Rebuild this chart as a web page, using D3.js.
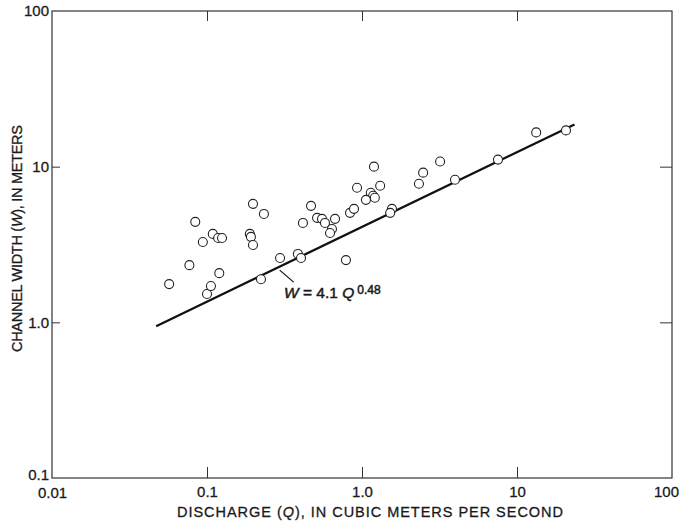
<!DOCTYPE html>
<html>
<head>
<meta charset="utf-8">
<script src="https://cdn.jsdelivr.net/npm/d3@7"></script>
<style>
  html, body { margin: 0; padding: 0; background: #fff; }
  svg { display: block; font-family: "Liberation Sans", Arial, Helvetica, sans-serif; }
  svg text { stroke: #1a1a1a; stroke-width: 0.3px; }
</style>
</head>
<body>
<svg id="chart" width="681" height="527"></svg>
<script>
// Channel width versus discharge, one record per measured site
const discharge = [
  0.057, 0.077, 0.084, 0.094, 0.100, 0.106, 0.109, 0.120, 0.118, 0.125,
  0.198, 0.233, 0.189, 0.192, 0.198, 0.223, 0.296, 0.386, 0.404, 0.416,
  0.469, 0.513, 0.552, 0.577, 0.670, 0.640, 0.622, 0.788, 0.837, 0.888,
  0.929, 1.195, 1.31, 1.14, 1.18, 1.21, 1.06, 1.56, 1.52, 3.19,
  2.48, 2.33, 3.98, 7.54, 13.3, 20.7
];
const channelWidth = [
  1.76, 2.33, 4.42, 3.28, 1.52, 1.71, 3.70, 2.07, 3.48, 3.48,
  5.77, 4.97, 3.70, 3.54, 3.14, 1.89, 2.59, 2.75, 2.59, 4.35,
  5.60, 4.69, 4.62, 4.35, 4.62, 3.98, 3.75, 2.51, 5.05, 5.36,
  7.32, 10.0, 7.54, 6.80, 6.50, 6.31, 6.12, 5.36, 5.05, 10.8,
  9.15, 7.77, 8.24, 11.1, 16.6, 17.1
];

// Fitted power law W = a Q^b and the discharge span it covers
const fitCoef = 4.1;
const fitExp = 0.48;
const fitRange = [0.047, 23.5];

// Axis ticks
const xTicks = [0.01, 0.1, 1, 10, 100];
const xTickLabels = ["0.01", "0.1", "1.0", "10", "100"];
const yTicks = [0.1, 1, 10, 100];
const yTickLabels = ["0.1", "1.0", "10", "100"];

const svg = d3.select("#chart");
const plotLeft = 52, plotRight = 672, plotTop = 11, plotBottom = 478;

const x = d3.scaleLog().domain([0.01, 100]).range([plotLeft, plotRight]);
const y = d3.scaleLog().domain([0.1, 100]).range([plotBottom, plotTop]);

const ink = "#1a1a1a";
const fontFam = "'Liberation Sans', Arial, sans-serif";

// Frame
svg.append("rect")
  .attr("x", plotLeft).attr("y", plotTop)
  .attr("width", plotRight - plotLeft).attr("height", plotBottom - plotTop)
  .attr("fill", "none").attr("stroke", "#333").attr("stroke-width", 1.2);

// Bottom axis with inward ticks
const gx = svg.append("g")
  .attr("transform", `translate(0,${plotBottom})`)
  .call(d3.axisBottom(x).tickValues(xTicks)
    .tickFormat((d, i) => xTickLabels[i])
    .tickSizeInner(-11).tickSizeOuter(0).tickPadding(8));
gx.select(".domain").remove();
gx.selectAll("text").attr("font-size", 15).attr("fill", ink).attr("font-family", fontFam);
gx.selectAll(".tick").filter(d => d === 100).select("text").attr("dx", -6);
gx.selectAll(".tick").filter(d => d === 0.01).select("text").attr("y", 9);
gx.selectAll(".tick").filter(d => d === 0.01 || d === 100).select("line").remove();
gx.selectAll("line").attr("stroke", "#333");

// Top ticks
const gxt = svg.append("g")
  .attr("transform", `translate(0,${plotTop})`)
  .call(d3.axisTop(x).tickValues([0.1, 1, 10]).tickFormat("")
    .tickSizeInner(-10).tickSizeOuter(0));
gxt.select(".domain").remove();
gxt.selectAll("line").attr("stroke", "#333");

// Left axis with inward ticks
const gy = svg.append("g")
  .attr("transform", `translate(${plotLeft},0)`)
  .call(d3.axisLeft(y).tickValues(yTicks)
    .tickFormat((d, i) => yTickLabels[i])
    .tickSizeInner(-8).tickSizeOuter(0).tickPadding(3));
gy.select(".domain").remove();
gy.selectAll("text").attr("font-size", 15).attr("fill", ink).attr("font-family", fontFam);
gy.selectAll(".tick").filter(d => d === 0.1).select("text").attr("y", -3);
gy.selectAll(".tick").filter(d => d === 0.1 || d === 100).select("line").remove();
gy.selectAll("line").attr("stroke", "#333");

// Right ticks
const gyr = svg.append("g")
  .attr("transform", `translate(${plotRight},0)`)
  .call(d3.axisRight(y).tickValues([1, 10]).tickFormat("")
    .tickSizeInner(-12).tickSizeOuter(0));
gyr.select(".domain").remove();
gyr.selectAll("line").attr("stroke", "#333");

// Fitted line
const fitPts = fitRange.map(q => [q, fitCoef * Math.pow(q, fitExp)]);
svg.append("line")
  .attr("x1", x(fitPts[0][0])).attr("y1", y(fitPts[0][1]))
  .attr("x2", x(fitPts[1][0])).attr("y2", y(fitPts[1][1]))
  .attr("stroke", "#111").attr("stroke-width", 2.3);

// Observations: open circles
svg.append("g").selectAll("circle")
  .data(discharge.map((q, i) => ({ q, w: channelWidth[i] })))
  .join("circle")
  .attr("cx", d => x(d.q)).attr("cy", d => y(d.w))
  .attr("r", 4.5)
  .attr("fill", "#fff").attr("stroke", "#222").attr("stroke-width", 1.1);

// Equation label with leader
const leaderQ = 0.29;
const lx = x(leaderQ), ly = y(fitCoef * Math.pow(leaderQ, fitExp));
svg.append("line")
  .attr("x1", lx + 1).attr("y1", ly + 3)
  .attr("x2", lx + 15).attr("y2", ly + 15)
  .attr("stroke", "#111").attr("stroke-width", 1.2);

const eq = svg.append("text")
  .attr("x", 284).attr("y", 298)
  .attr("font-size", 15.5).attr("fill", ink).attr("font-family", fontFam)
  .style("stroke-width", "0.5px");
eq.append("tspan").attr("font-style", "italic").text("W");
eq.append("tspan").text(" = " + fitCoef + " ");
eq.append("tspan").attr("font-style", "italic").text("Q");
eq.append("tspan").attr("dx", 3).attr("dy", -4).attr("font-size", 12).text(fitExp.toFixed(2));

// Axis titles
const xt = svg.append("text")
  .attr("x", 177).attr("y", 517)
  .attr("font-size", 14.5).attr("fill", ink).attr("font-family", fontFam)
  .attr("textLength", 386).attr("lengthAdjust", "spacing");
xt.append("tspan").text("DISCHARGE (");
xt.append("tspan").attr("font-style", "italic").text("Q");
xt.append("tspan").text("), IN CUBIC METERS PER SECOND");

const yt = svg.append("text")
  .attr("transform", "translate(22,352) rotate(-90)")
  .attr("font-size", 14.5).attr("fill", ink).attr("font-family", fontFam)
  .attr("textLength", 227).attr("lengthAdjust", "spacing");
yt.append("tspan").text("CHANNEL WIDTH (");
yt.append("tspan").attr("font-style", "italic").text("W");
yt.append("tspan").text("), IN METERS");
</script>
</body>
</html>
